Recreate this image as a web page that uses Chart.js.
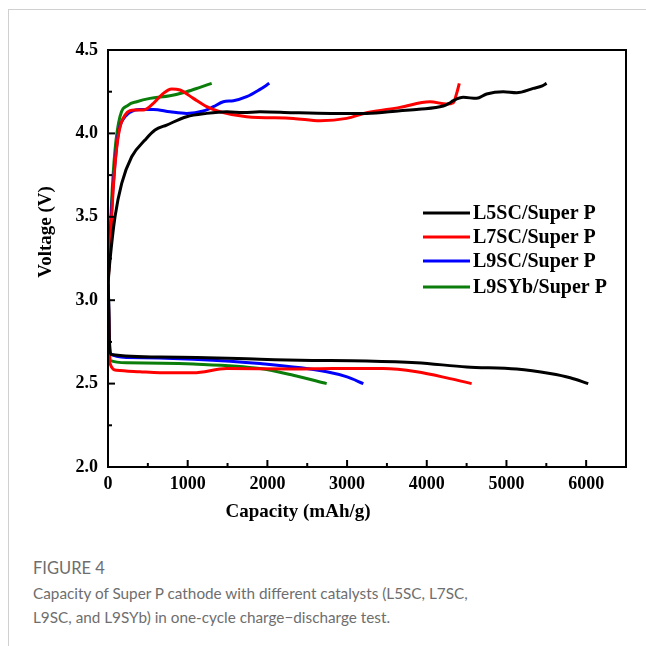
<!DOCTYPE html>
<html>
<head>
<meta charset="utf-8">
<script src="https://cdn.jsdelivr.net/npm/chart.js@4.4.1/dist/chart.umd.min.js"></script>
<style>
  body { margin: 0; background: #fff; width: 646px; height: 646px; position: relative; overflow: hidden; }
  #frame { position: absolute; left: 8px; top: 9px; width: 650px; height: 650px; border-top: 1px solid #d0d0d0; border-left: 1px solid #d0d0d0; }
  #wrap { position: absolute; left: 0; top: 0; width: 646px; height: 540px; }
  .cap { position: absolute; left: 33px; font-family: Lato, "Open Sans", sans-serif; color: #6e6e6e; }
  #figno { top: 558px; font-size: 16.5px; }
  #figtxt { top: 581px; font-size: 15.3px; line-height: 24px; width: 600px; }
</style>
</head>
<body>
<div id="frame"></div>
<div id="wrap"><canvas id="myChart" width="646" height="540"></canvas></div>
<div class="cap" id="figno">FIGURE 4</div>
<div class="cap" id="figtxt">Capacity of Super P cathode with different catalysts (L5SC, L7SC,<br>L9SC, and L9SYb) in one-cycle charge−discharge test.</div>
<script>
const COLORS = {
    black: '#000000',
    red: '#ff0000',
    blue: '#0000ff',
    green: '#0a7d0a',
};

const SERIES_NAMES = ['L5SC/Super P', 'L7SC/Super P', 'L9SC/Super P', 'L9SYb/Super P'];

const X_TICKS = [0, 1000, 2000, 3000, 4000, 5000, 6000];
const Y_TICKS = [2.0, 2.5, 3.0, 3.5, 4.0, 4.5];

// charge curves (capacity mAh/g, voltage V)
const l5sc_charge_cap = [0, 25, 88, 172, 297, 464, 590, 736, 987, 1238, 1489, 1700, 1907, 2325, 2800, 3246, 3664, 3900, 4207, 4280, 4333, 4458, 4626, 4751, 4960, 5128, 5337, 5450, 5504];
const l5sc_charge_v = [3.10, 3.24, 3.50, 3.70, 3.86, 3.96, 4.02, 4.05, 4.10, 4.12, 4.13, 4.125, 4.13, 4.124, 4.12, 4.12, 4.136, 4.145, 4.164, 4.18, 4.196, 4.216, 4.21, 4.236, 4.25, 4.244, 4.27, 4.285, 4.30];

const l7sc_charge_cap = [0, 25, 67, 121, 213, 339, 443, 569, 694, 799, 903, 1071, 1238, 1405, 1740, 2325, 2660, 2995, 3246, 3664, 4040, 4249, 4333, 4375, 4408];
const l7sc_charge_v = [3.10, 3.30, 3.68, 3.96, 4.11, 4.14, 4.14, 4.18, 4.24, 4.266, 4.26, 4.21, 4.16, 4.13, 4.10, 4.09, 4.076, 4.09, 4.124, 4.156, 4.19, 4.176, 4.184, 4.24, 4.30];

const l9sc_charge_cap = [0, 25, 67, 130, 213, 339, 401, 569, 778, 987, 1196, 1322, 1447, 1573, 1740, 1907, 2024];
const l9sc_charge_v = [3.10, 3.36, 3.70, 4.00, 4.10, 4.14, 4.144, 4.144, 4.13, 4.12, 4.134, 4.16, 4.19, 4.196, 4.22, 4.264, 4.30];

const l9syb_charge_cap = [0, 25, 46, 88, 150, 255, 360, 527, 778, 987, 1154, 1301];
const l9syb_charge_v = [3.10, 3.35, 3.60, 3.90, 4.10, 4.17, 4.19, 4.21, 4.226, 4.25, 4.276, 4.30];

// discharge curves
const l5sc_dis_cap = [0, 15, 40, 652, 1907, 2409, 3246, 3873, 4500, 5128, 5546, 5800, 6026];
const l5sc_dis_v = [3.2, 2.8, 2.675, 2.66, 2.646, 2.64, 2.636, 2.625, 2.60, 2.587, 2.56, 2.535, 2.50];

const l7sc_dis_cap = [0, 15, 25, 109, 401, 652, 1071, 1489, 2325, 2827, 3454, 3873, 4291, 4563];
const l7sc_dis_v = [3.2, 2.75, 2.62, 2.58, 2.571, 2.565, 2.565, 2.59, 2.587, 2.59, 2.59, 2.571, 2.53, 2.50];

const l9sc_dis_cap = [0, 15, 25, 234, 1071, 1907, 2744, 3000, 3204];
const l9sc_dis_v = [3.2, 2.8, 2.68, 2.657, 2.646, 2.62, 2.571, 2.54, 2.50];

const l9syb_dis_cap = [0, 15, 25, 234, 1071, 1907, 2325, 2744];
const l9syb_dis_v = [3.2, 2.8, 2.64, 2.625, 2.617, 2.59, 2.55, 2.50];

const SERIF = "'Liberation Serif', 'Times New Roman', serif";

function pts(cap, v) {
    return cap.map((c, i) => ({ x: c, y: v[i] }));
}

function line(label, color, cap, v) {
    return {
        label: label,
        data: pts(cap, v),
        borderColor: color,
        backgroundColor: color,
        borderWidth: 3,
        pointRadius: 0,
        fill: false,
        cubicInterpolationMode: 'monotone',
    };
}

// inward ticks, box, legend and axis titles
const framePlugin = {
    id: 'framePlugin',
    afterDraw(chart) {
        const { ctx, chartArea: a, scales: { x, y } } = chart;
        ctx.save();
        ctx.strokeStyle = '#000';
        ctx.lineWidth = 2;
        ctx.strokeRect(a.left, a.top, a.right - a.left, a.bottom - a.top);

        X_TICKS.forEach(v => {
            let px = x.getPixelForValue(v);
            ctx.beginPath(); ctx.moveTo(px, a.bottom); ctx.lineTo(px, a.bottom - 7); ctx.stroke();
            px = x.getPixelForValue(v + 500);
            if (px < a.right - 2) {
                ctx.beginPath(); ctx.moveTo(px, a.bottom); ctx.lineTo(px, a.bottom - 4); ctx.stroke();
            }
        });
        Y_TICKS.forEach(v => {
            let py = y.getPixelForValue(v);
            ctx.beginPath(); ctx.moveTo(a.left, py); ctx.lineTo(a.left + 7, py); ctx.stroke();
            if (v < 4.5) {
                py = y.getPixelForValue(v + 0.25);
                ctx.beginPath(); ctx.moveTo(a.left, py); ctx.lineTo(a.left + 4, py); ctx.stroke();
            }
        });

        // legend
        ctx.font = 'bold 20px ' + SERIF;
        ctx.textBaseline = 'middle';
        ctx.fillStyle = '#000';
        const rowY = [213, 237, 261, 287];
        SERIES_NAMES.forEach((name, i) => {
            ctx.strokeStyle = chart.data.datasets[i].borderColor;
            ctx.lineWidth = 3;
            ctx.beginPath(); ctx.moveTo(423, rowY[i]); ctx.lineTo(470, rowY[i]); ctx.stroke();
            ctx.fillText(name, 473, rowY[i] + 1);
        });

        // axis titles
        ctx.font = 'bold 19px ' + SERIF;
        ctx.textAlign = 'center';
        ctx.fillText('Capacity (mAh/g)', 298, 512);
        ctx.translate(46, 232);
        ctx.rotate(-Math.PI / 2);
        ctx.fillText('Voltage (V)', 0, 0);
        ctx.restore();
    }
};

const ctx = document.getElementById('myChart').getContext('2d');

new Chart(ctx, {
    type: 'line',
    data: {
        datasets: [
            line(SERIES_NAMES[0], COLORS.black, l5sc_charge_cap, l5sc_charge_v),
            line(SERIES_NAMES[1], COLORS.red, l7sc_charge_cap, l7sc_charge_v),
            line(SERIES_NAMES[2], COLORS.blue, l9sc_charge_cap, l9sc_charge_v),
            line(SERIES_NAMES[3], COLORS.green, l9syb_charge_cap, l9syb_charge_v),
            line(SERIES_NAMES[0], COLORS.black, l5sc_dis_cap, l5sc_dis_v),
            line(SERIES_NAMES[1], COLORS.red, l7sc_dis_cap, l7sc_dis_v),
            line(SERIES_NAMES[2], COLORS.blue, l9sc_dis_cap, l9sc_dis_v),
            line(SERIES_NAMES[3], COLORS.green, l9syb_dis_cap, l9syb_dis_v),
        ]
    },
    options: {
        responsive: false,
        animation: false,
        layout: {
            padding: { top: 50, right: 20, left: 0, bottom: 0 }
        },
        plugins: {
            legend: { display: false },
            tooltip: { enabled: false },
        },
        scales: {
            x: {
                type: 'linear',
                min: 0,
                max: 6500,
                afterBuildTicks: (scale) => { scale.ticks = X_TICKS.map(v => ({ value: v })); },
                afterFit: (scale) => { scale.height = 73; },
                ticks: {
                    font: { family: SERIF, size: 18, weight: 'bold' },
                    color: '#000',
                    padding: 7,
                    maxRotation: 0,
                    callback: (v) => String(v),
                },
                grid: { display: false, drawTicks: false },
                border: { display: false },
            },
            y: {
                type: 'linear',
                min: 2.0,
                max: 4.5,
                afterBuildTicks: (scale) => { scale.ticks = Y_TICKS.map(v => ({ value: v })); },
                afterFit: (scale) => { scale.width = 108; },
                ticks: {
                    font: { family: SERIF, size: 18, weight: 'bold' },
                    color: '#000',
                    padding: 10,
                    callback: (v) => v.toFixed(1),
                },
                grid: { display: false, drawTicks: false },
                border: { display: false },
            }
        }
    },
    plugins: [framePlugin]
});
</script>
</body>
</html>
